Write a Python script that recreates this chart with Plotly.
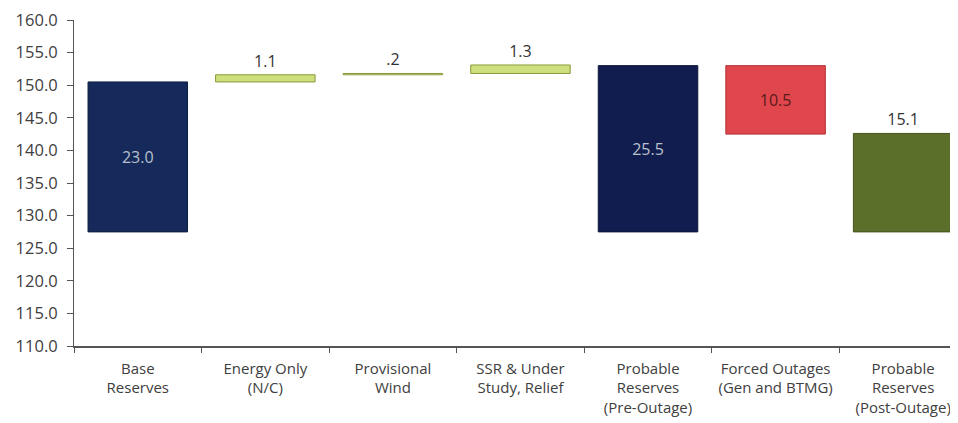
import plotly.graph_objects as go

categories = ["Base<br>Reserves", "Energy Only<br>(N/C)", "Provisional<br>Wind",
              "SSR & Under<br>Study, Relief", "Probable<br>Reserves<br>(Pre-Outage)",
              "Forced Outages<br>(Gen and BTMG)", "Probable<br>Reserves<br>(Post-Outage)"]
bases = [127.5, 150.5, 151.6, 151.8, 127.5, 142.5, 127.5]
values = [23.0, 1.1, 0.2, 1.3, 25.5, 10.5, 15.1]
labels = ["23.0", "1.1", ".2", "1.3", "25.5", "10.5", "15.1"]
y_ticks = [110, 115, 120, 125, 130, 135, 140, 145, 150, 155, 160]

colors = ["#15295a", "#cddf7c", "#cddf7c", "#cddf7c", "#101d4e", "#e0474c", "#5b6e2a"]
line_colors = ["#0f1d40", "#8a9a3a", "#8a9a3a", "#8a9a3a", "#0b153a", "#b03035", "#45541e"]
text_pos = ["inside", "outside", "outside", "outside", "inside", "inside", "outside"]
text_colors = ["#b9c0cc", "#333333", "#333333", "#333333", "#b9c0cc", "#5a1a1a", "#333333"]

fig = go.Figure(go.Bar(
    x=categories, y=values, base=bases,
    width=0.78,
    marker=dict(color=colors, line=dict(color=line_colors, width=1)),
    text=labels, textposition=text_pos, insidetextanchor="middle",
    textfont=dict(color=text_colors, size=16, family="Open Sans"),
    cliponaxis=False, constraintext="none",
))

fig.update_layout(
    width=958, height=423,
    margin=dict(l=66, r=8, t=12, b=85),
    plot_bgcolor="white", paper_bgcolor="white",
    showlegend=False,
    font=dict(family="Open Sans", color="#404040"),
)
fig.update_yaxes(
    range=[110, 160], tickvals=y_ticks, ticktext=[f"{v:.1f}" for v in y_ticks],
    showgrid=False, showline=True, linecolor="#555555", linewidth=1,
    ticks="outside", ticklen=6, tickcolor="#555555", ticklabelstandoff=6,
    ticklabeloverflow="allow",
    tickfont=dict(size=16.5, color="#404040"), zeroline=False, automargin=False,
)
fig.update_xaxes(
    range=[-0.5, 6.43], showgrid=False, showline=True, linecolor="#555555", linewidth=1.5,
    ticks="outside", tickson="boundaries", ticklen=5, tickcolor="#555555",
    ticklabelstandoff=8,
    tickfont=dict(size=15, color="#404040"), automargin=False,
)

fig.write_html("out.html")
